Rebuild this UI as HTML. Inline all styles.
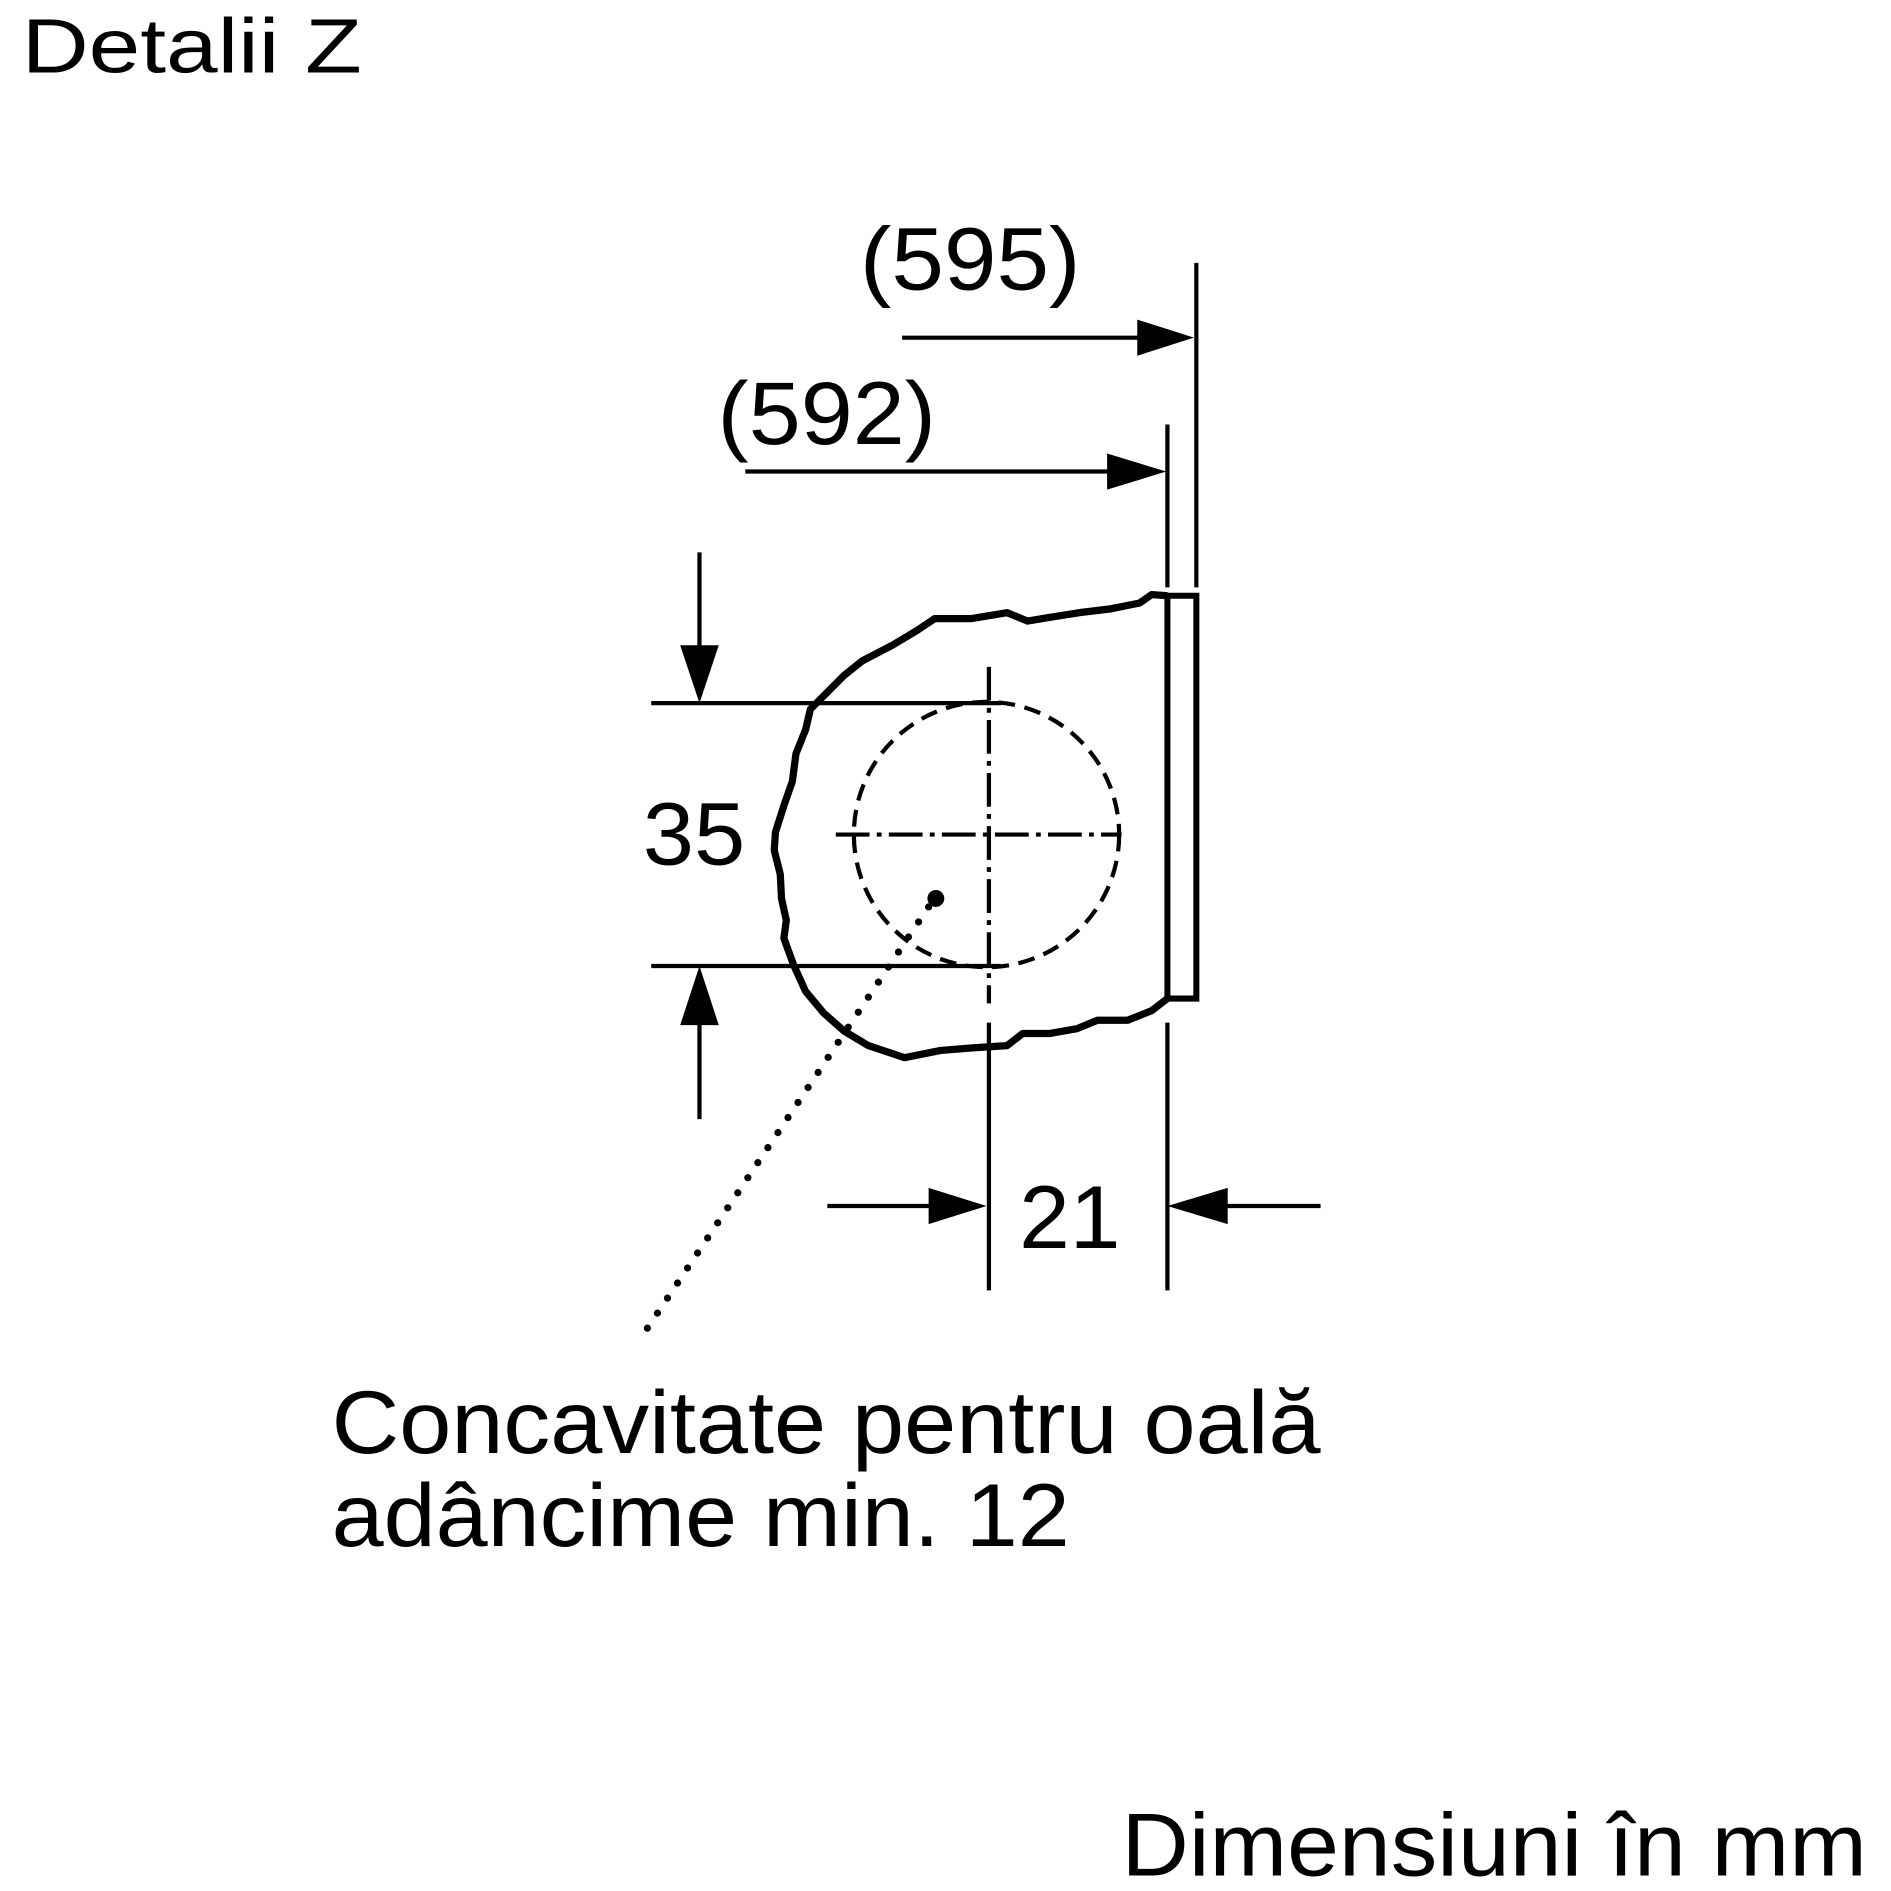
<!DOCTYPE html>
<html><head><meta charset="utf-8"><style>
html,body{margin:0;padding:0;background:#fff;}
svg{display:block;}
text{font-family:"Liberation Sans",Arial,sans-serif;fill:#000;}
</style></head><body>
<svg width="1891" height="1891" viewBox="0 0 1568 1568" xmlns="http://www.w3.org/2000/svg">
<rect width="1568" height="1568" fill="#fff"/>
<text x="18" y="60" font-size="64" textLength="282" lengthAdjust="spacingAndGlyphs">Detalii Z</text>
<text x="713" y="240" font-size="74" textLength="183" lengthAdjust="spacingAndGlyphs">(595)</text>
<text x="595" y="368" font-size="74" textLength="181" lengthAdjust="spacingAndGlyphs">(592)</text>
<text x="533" y="717" font-size="74" textLength="85" lengthAdjust="spacingAndGlyphs">35</text>
<text x="845" y="1035" font-size="74" textLength="84" lengthAdjust="spacingAndGlyphs">21</text>
<text x="275" y="1205" font-size="74" textLength="820" lengthAdjust="spacingAndGlyphs">Concavitate pentru oală</text>
<text x="275" y="1282" font-size="74" textLength="612" lengthAdjust="spacingAndGlyphs">adâncime min. 12</text>
<text x="930" y="1555" font-size="74" textLength="618" lengthAdjust="spacingAndGlyphs">Dimensiuni în mm</text>

<g stroke="#000" stroke-width="3.5" fill="none">
<line x1="992" y1="218" x2="992" y2="487"/>
<line x1="968" y1="352" x2="968" y2="487"/>
<line x1="748" y1="280" x2="950" y2="280"/>
<line x1="618" y1="391" x2="925" y2="391"/>
<line x1="540" y1="583" x2="830" y2="583"/>
<line x1="540" y1="801" x2="830" y2="801"/>
<line x1="580" y1="458" x2="580" y2="545"/>
<line x1="580" y1="840" x2="580" y2="928"/>
<line x1="820" y1="848" x2="820" y2="1070"/>
<line x1="968" y1="848" x2="968" y2="1070"/>
<line x1="686" y1="1000" x2="780" y2="1000"/>
<line x1="1005" y1="1000" x2="1095" y2="1000"/>
<circle cx="818" cy="692" r="110" stroke-dasharray="14 8"/>
<line x1="693" y1="692" x2="930" y2="692" stroke-dasharray="28 6 4 6"/>
<line x1="820" y1="553" x2="820" y2="832" stroke-dasharray="28 6 4 6"/>
<line x1="770" y1="752" x2="533" y2="1107" stroke-width="6" stroke-linecap="round" stroke-dasharray="0 15"/>
</g>
<g fill="#000">
<polygon points="990,280 943,265 943,295"/>
<polygon points="967,391 918,376 918,406"/>
<polygon points="580,583 564,535 596,535"/>
<polygon points="580,801 564,850 596,850"/>
<polygon points="818,1000 770,985 770,1015"/>
<polygon points="968,1000 1018,985 1018,1015"/>
<circle cx="776" cy="745" r="7"/>
</g>
<path d="M968,494 L992,494 L992,828 L968,828 Z" fill="none" stroke="#000" stroke-width="5"/>
<path d="M968,494 L955,493 L945,500 L920,505 L895,508 L870,512 L852,515 L835,508 L805,513 L775,513 L760,523 L740,535 L715,548 L700,560 L685,575 L672,588 L668,605 L660,625 L657,648 L650,668 L643,690 L642,705 L647,725 L648,745 L652,763 L650,778 L658,800 L668,822 L683,840 L700,855 L720,867 L750,877 L780,871 L805,869 L835,867 L848,857 L870,857 L893,853 L910,846 L935,846 L955,838 L968,828" fill="none" stroke="#000" stroke-width="6" stroke-linejoin="round"/>
</svg>
</body></html>
